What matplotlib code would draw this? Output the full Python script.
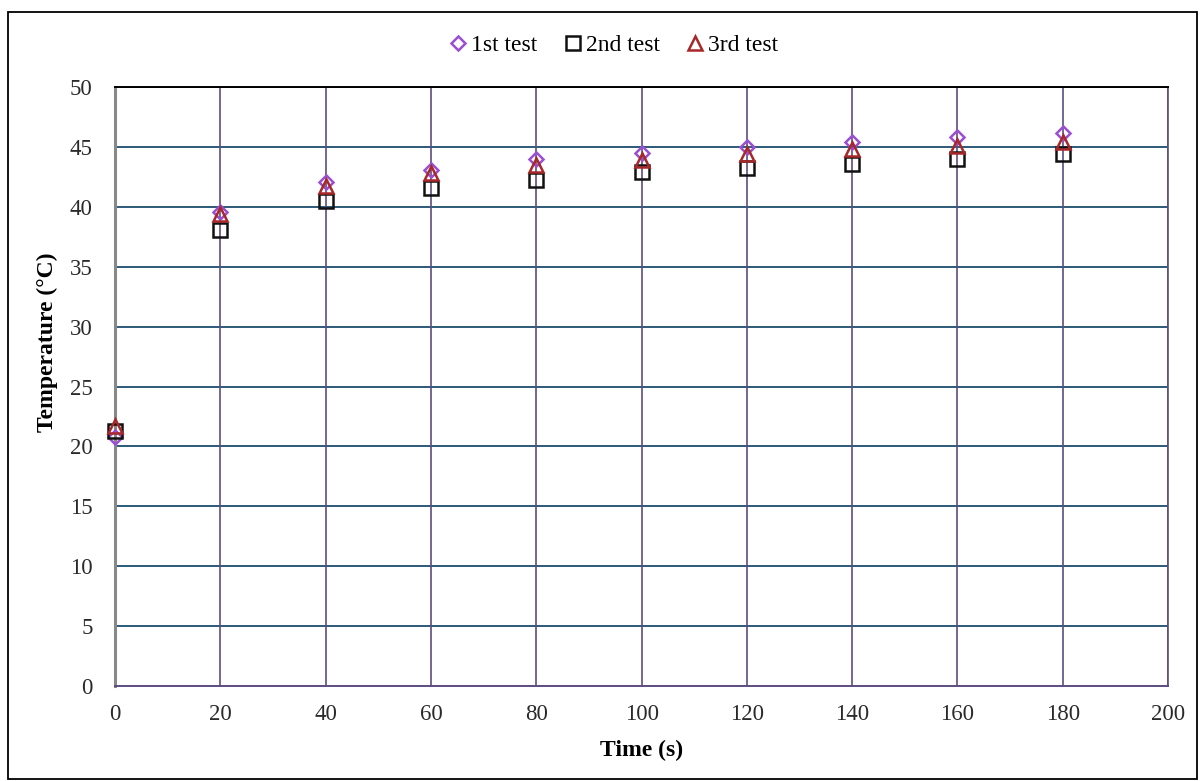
import matplotlib
matplotlib.use("Agg")
import matplotlib.pyplot as plt
from matplotlib.patches import Rectangle

# Measured temperature during heating, three repeated runs
time_s = [0, 20, 40, 60, 80, 100, 120, 140, 160, 180]
test1 = [20.8, 39.6, 42.1, 43.1, 44.0, 44.5, 45.0, 45.4, 45.8, 46.2]
test2 = [21.3, 38.1, 40.5, 41.6, 42.2, 42.9, 43.2, 43.6, 44.0, 44.4]
test3 = [21.7, 39.4, 41.7, 42.8, 43.5, 43.9, 44.4, 44.8, 45.1, 45.4]

x_ticks = [0, 20, 40, 60, 80, 100, 120, 140, 160, 180, 200]
y_ticks = [0, 5, 10, 15, 20, 25, 30, 35, 40, 45, 50]

plt.rcParams["font.family"] = ["Liberation Serif", "DejaVu Serif"]

fig = plt.figure(figsize=(12.03, 7.81), dpi=100)
ax = fig.add_axes([0.0956, 0.1216, 0.8754, 0.767])

# outer frame around the whole figure
fig.patches.append(Rectangle((0.0067, 0.002), 0.988, 0.983, transform=fig.transFigure,
                             fill=False, edgecolor="black", linewidth=1.3))

ax.set_xlim(0, 200)
ax.set_ylim(0, 50)
ax.set_xticks(x_ticks)
ax.set_yticks(y_ticks)

for y in y_ticks[1:]:
    ax.axhline(y, color="#2b5a78", linewidth=1.4, zorder=1)
for x in x_ticks[1:]:
    ax.axvline(x, color="#5e4b80", linewidth=1.2, zorder=1)

ax.spines["left"].set_color("#888888")
ax.spines["left"].set_linewidth(2.2)
ax.spines["bottom"].set_color("#5e4b80")
ax.spines["bottom"].set_linewidth(1.4)
ax.spines["top"].set_color("black")
ax.spines["top"].set_linewidth(1.4)
ax.spines["right"].set_color("#5e4b80")
ax.spines["right"].set_linewidth(1.2)

ax.tick_params(axis="x", length=0, labelsize=16.5, pad=13, colors="#2a2a2a")
ax.tick_params(axis="y", length=0, labelsize=16.5, pad=16, colors="#2a2a2a")

ax.plot(time_s, test1, linestyle="none", marker="D", markersize=7, markerfacecolor="none",
        markeredgecolor="#9b4fd0", markeredgewidth=1.8, label="1st test", zorder=3,
        clip_on=False)
ax.plot(time_s, test2, linestyle="none", marker="s", markersize=10, markerfacecolor="none",
        markeredgecolor="#111111", markeredgewidth=1.8, label="2nd test", zorder=4,
        clip_on=False)
ax.plot(time_s, test3, linestyle="none", marker="^", markersize=9.5, markerfacecolor="none",
        markeredgecolor="#a8282a", markeredgewidth=1.8, label="3rd test", zorder=5,
        clip_on=False)

ax.set_xlabel("Time (s)", fontsize=17, fontweight="bold", labelpad=11)
ax.set_ylabel("Temperature (°C)", fontsize=17, fontweight="bold")
ax.yaxis.set_label_coords(-0.0545, 0.574)

leg = ax.legend(loc="lower center", bbox_to_anchor=(0.472, 1.016), ncol=3, frameon=False,
                fontsize=17, handletextpad=0.05, columnspacing=1.0, handlelength=1.0)

fig.savefig("out.png", dpi=100)
